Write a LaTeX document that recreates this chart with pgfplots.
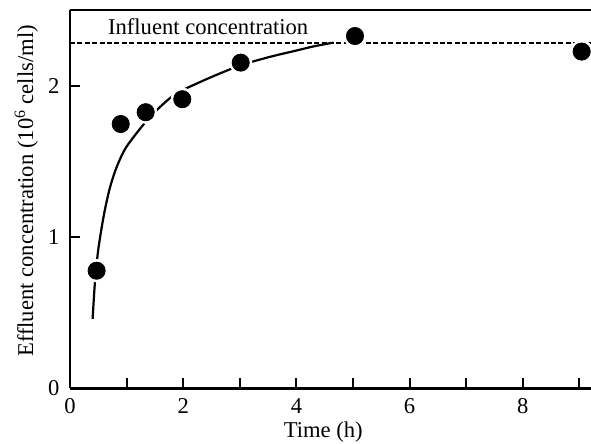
\documentclass[border=0pt]{standalone}
\usepackage{fontspec}
\setmainfont{Liberation Serif}
\usepackage{pgfplots}
\pgfplotsset{compat=1.18}
\begin{document}
\fontsize{11.3}{13}\selectfont
\begin{tikzpicture}
\begin{axis}[
  scale only axis, width=260.5pt, height=189.25pt,
  xmin=0, xmax=9.205, ymin=0, ymax=2.503,
  axis x line*=bottom, axis y line*=left,
  axis line style={-, line width=1.3pt, black},
  tick align=inside, major tick length=5pt,
  tick style={line width=1pt, black},
  xtick={0,1,2,3,4,5,6,7,8,9},
  xticklabels={0,,2,,4,,6,,8,},
  ytick={0,1,2},
  /pgf/number format/assume math mode=true,
  xticklabel style={yshift=-1pt},
  yticklabel style={xshift=-1.3pt},
  xlabel={Time (h)},
  xlabel style={at={(axis description cs:0.486,0)}, anchor=base, yshift=-24.5pt},
  ylabel={Effluent concentration (10\textsuperscript{6} cells/ml)},
  ylabel style={at={(axis description cs:-0.071,0.522)}, anchor=base, rotate=0},
  clip=true,
]
% fitted curve
\addplot[black, line width=1.1pt, smooth, tension=0.5, mark=none] coordinates {
 (0.40,0.46) (0.44,0.70) (0.50,0.92) (0.60,1.15) (0.70,1.32) (0.80,1.44)
 (0.90,1.53) (1.00,1.60) (1.20,1.70) (1.40,1.79) (1.60,1.865) (1.80,1.93)
 (2.00,1.975) (2.50,2.06) (3.00,2.135) (3.50,2.19) (4.00,2.235) (4.30,2.262)
 (4.65,2.287)
};
% white halos around markers
\addplot[white, only marks, mark=*, mark size=5.6pt] coordinates {
 (0.47,0.779) (0.896,1.749) (1.337,1.827) (1.984,1.913) (3.016,2.155) (5.035,2.331) (9.04,2.228)
};
% influent concentration
\addplot[black, line width=1.1pt, dash pattern=on 2.5pt off 1.2pt, mark=none] coordinates {(0,2.287) (9.205,2.287)};
% data
\addplot[black, only marks, mark=*, mark size=4.3pt] coordinates {
 (0.47,0.779) (0.896,1.749) (1.337,1.827) (1.984,1.913) (3.016,2.155) (5.035,2.331) (9.04,2.228)
};
\node[anchor=base west, inner sep=0pt] at (axis cs:0.666,2.338) {Influent concentration};
\draw[line width=1.3pt] (rel axis cs:0,1) -- (rel axis cs:1,1);
\coordinate (sw) at (rel axis cs:0,0);
\coordinate (ne) at (rel axis cs:1,1);
\end{axis}
\pgfresetboundingbox
\path ([xshift=-35pt,yshift=-27.75pt]sw) rectangle ([yshift=5pt]ne);
\end{tikzpicture}
\end{document}
